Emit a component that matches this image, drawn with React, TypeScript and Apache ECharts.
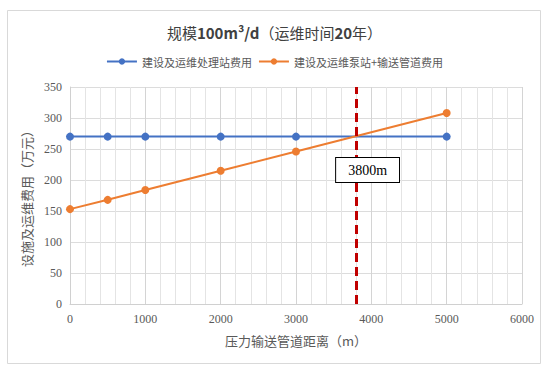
import React, { useEffect, useRef } from "react";
import * as echarts from "echarts";

const titleParts = [
  { t: "规模", s: "n" },
  { t: "100m³/d", s: "b" },
  { t: "（运维时间", s: "n" },
  { t: "20", s: "b" },
  { t: "年）", s: "n" },
];
const seriesNames = ["建设及运维处理站费用", "建设及运维泵站+输送管道费用"];
const distances = [0, 500, 1000, 2000, 3000, 5000];
const stationCost = [270, 270, 270, 270, 270, 270];
const pipeCost = [153, 168, 184, 215, 246, 308];
const breakEven = 3800;
const breakEvenLabel = "3800m";
const labelAnchor = [3950, 216];
const xName = "压力输送管道距离（m）";
const yName = "设施及运维费用（万元）";

export default function App() {
  const ref = useRef<HTMLDivElement>(null);
  useEffect(() => {
    const chart = echarts.init(ref.current!, null, { renderer: "svg" });
    const serif = "Liberation Serif";
    const cjk = "Noto Sans CJK SC";
    chart.setOption({
      animation: false,
      backgroundColor: "#fff",
      title: {
        text: titleParts.map((p) => `{${p.s}|${p.t}}`).join(""),
        left: "center",
        top: 20,
        textStyle: {
          rich: {
            n: { fontFamily: cjk, fontSize: 15, fontWeight: "normal", color: "#404040" },
            b: { fontFamily: cjk, fontSize: 15, fontWeight: "bold", color: "#404040" },
          },
        },
      },
      legend: {
        top: 51,
        left: "center",
        itemWidth: 30,
        itemHeight: 8,
        itemGap: 6,
        textStyle: { fontFamily: cjk, fontSize: 11, color: "#595959" },
        data: seriesNames,
      },
      graphic: [
        {
          type: "rect",
          shape: { x: 7.5, y: 10.5, width: 533, height: 353 },
          style: { fill: "none", stroke: "#D9D9D9", lineWidth: 1 },
          silent: true,
        },
      ],
      grid: { left: 70, right: 27, top: 87, bottom: 67, containLabel: false },
      xAxis: {
        type: "value",
        min: 0,
        max: 6000,
        interval: 1000,
        name: xName,
        nameLocation: "middle",
        nameGap: 30,
        nameTextStyle: { fontFamily: cjk, fontSize: 13, color: "#595959" },
        axisLine: { show: true, lineStyle: { color: "#D0D0D0" } },
        axisTick: { show: false },
        axisLabel: {
          fontFamily: serif,
          fontSize: 12,
          color: "#595959",
          margin: 9,
          formatter: (v: number) => String(v),
        },
        splitLine: { show: true, lineStyle: { color: "#D4D4D4", width: 1 } },
        minorTick: { show: false, splitNumber: 5 },
        minorSplitLine: { show: true, lineStyle: { color: "#E4E4E4", width: 1 } },
      },
      yAxis: {
        type: "value",
        min: 0,
        max: 350,
        interval: 50,
        name: yName,
        nameLocation: "middle",
        nameGap: 36,
        nameTextStyle: { fontFamily: cjk, fontSize: 13, color: "#595959" },
        axisLine: { show: true, lineStyle: { color: "#D0D0D0" } },
        axisTick: { show: false },
        axisLabel: {
          fontFamily: serif,
          fontSize: 12,
          color: "#595959",
          margin: 8,
          formatter: (v: number) => String(v),
        },
        splitLine: { show: true, lineStyle: { color: "#DCDCDC", width: 1 } },
      },
      series: [
        {
          name: seriesNames[0],
          type: "line",
          data: distances.map((d, i) => [d, stationCost[i]]),
          symbol: "circle",
          symbolSize: 8,
          color: "#4472C4",
          lineStyle: { width: 2, color: "#4472C4" },
          z: 3,
        },
        {
          name: seriesNames[1],
          type: "line",
          data: distances.map((d, i) => [d, pipeCost[i]]),
          symbol: "circle",
          symbolSize: 8,
          color: "#ED7D31",
          lineStyle: { width: 2, color: "#ED7D31" },
          z: 3,
          markLine: {
            silent: true,
            symbol: "none",
            label: { show: false },
            lineStyle: { color: "#C00000", width: 3, type: [9, 5] },
            data: [{ xAxis: breakEven }],
            z: 4,
          },
          markPoint: {
            silent: true,
            symbol: "rect",
            symbolSize: 1,
            itemStyle: { color: "transparent" },
            label: {
              show: true,
              position: "inside",
              formatter: breakEvenLabel,
              fontFamily: serif,
              fontSize: 14,
              fontWeight: "normal",
              color: "#000",
              backgroundColor: "#fff",
              borderColor: "#000",
              borderWidth: 1,
              padding: [5, 12, 5, 12],
            },
            data: [{ coord: labelAnchor }],
            z: 10,
          },
        },
      ],
    });
    return () => chart.dispose();
  }, []);
  return (
    <div
      ref={ref}
      style={{ position: "fixed", left: 0, top: 0, width: 549, height: 371 }}
    />
  );
}
